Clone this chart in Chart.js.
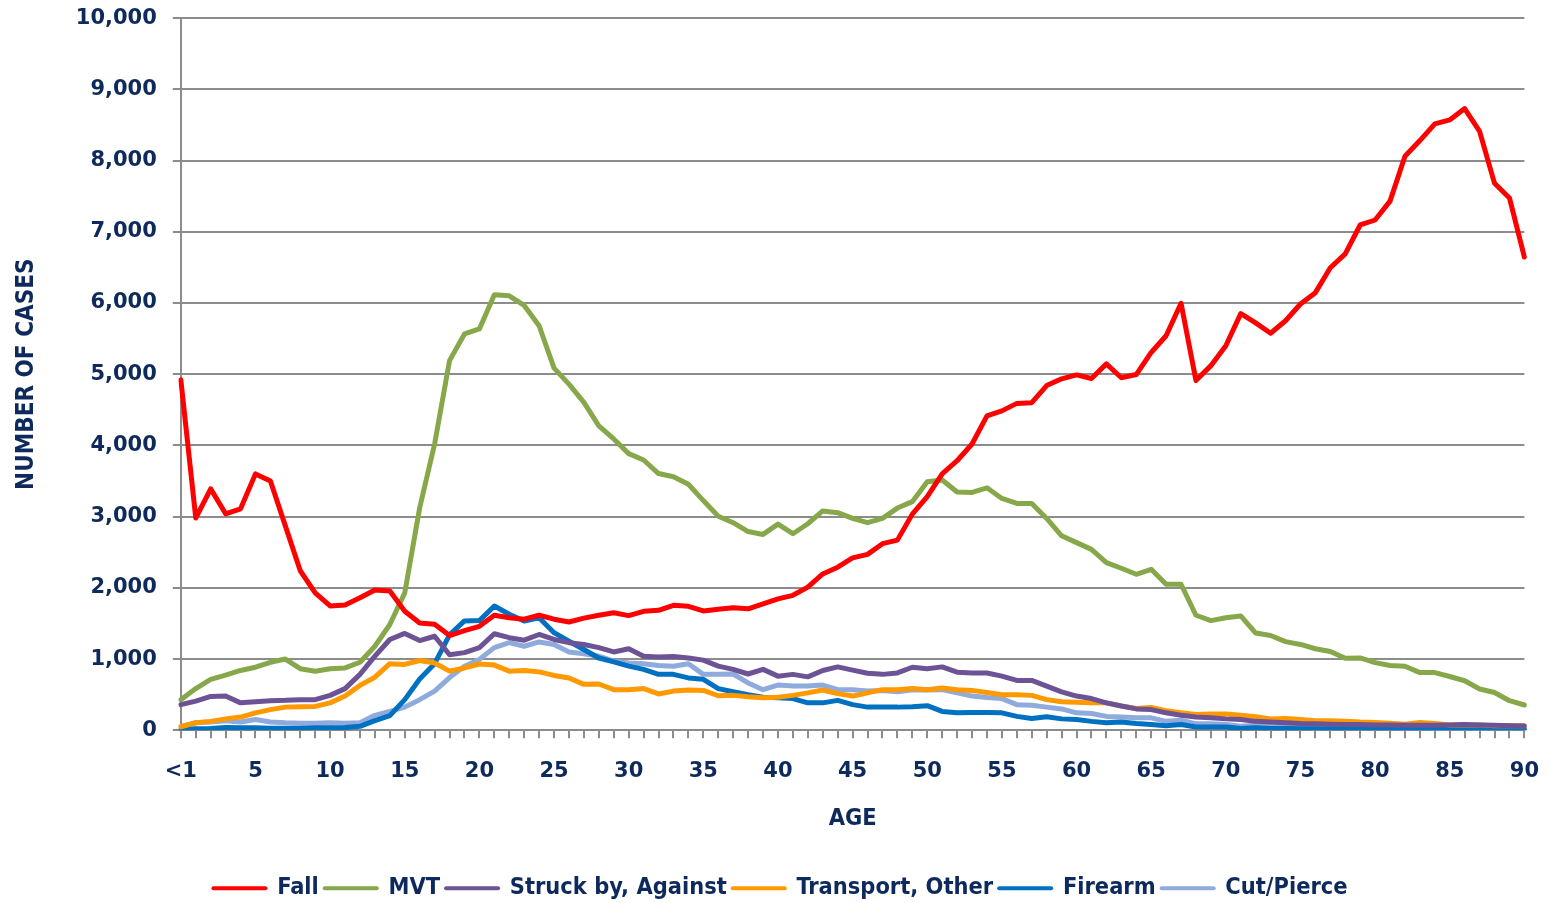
<!DOCTYPE html>
<html>
<head>
<meta charset="utf-8">
<script src="https://cdn.jsdelivr.net/npm/chart.js@4.4.1/dist/chart.umd.min.js"></script>
<style>
  html, body { margin: 0; padding: 0; background: #fff; }
  #wrap { width: 1549px; height: 903px; }
</style>
</head>
<body>
<div id="wrap"><canvas id="injuryChart"></canvas></div>
<script>
// Edades 0..90 (0 = "<1")
const ages = [];
for (let a = 0; a <= 90; a++) ages.push(a);

const fall = [
  4920, 2980, 3390, 3040, 3110, 3600, 3500, 2870, 2240, 1930,
  1745, 1760, 1860, 1970, 1955, 1670, 1505, 1490, 1330, 1400,
  1460, 1615, 1580, 1560, 1615, 1560, 1520, 1575, 1615, 1650,
  1610, 1670, 1685, 1755, 1740, 1675, 1700, 1720, 1705, 1775,
  1845, 1895, 2010, 2195, 2290, 2420, 2470, 2620, 2670, 3035,
  3280, 3600, 3785, 4020, 4415, 4485, 4590, 4600, 4840, 4935,
  4990, 4940, 5145, 4950, 4995, 5305, 5540, 5995, 4910, 5120,
  5400, 5850, 5720, 5575, 5750, 5985, 6145, 6495, 6690, 7095,
  7165, 7430, 8060, 8280, 8515, 8570, 8730, 8410, 7680, 7475,
  6645
];
const mvt = [
  430, 585, 715, 775, 840, 885, 955, 1000, 865, 830,
  865, 875, 955, 1180, 1485, 1930, 3125, 4020, 5190, 5565,
  5635, 6115, 6100, 5965, 5680, 5085, 4860, 4605, 4275, 4090,
  3885, 3795, 3605, 3560, 3455, 3225, 3005, 2915, 2790, 2750,
  2895, 2760, 2900, 3080, 3055, 2975, 2915, 2975, 3120, 3210,
  3490, 3515, 3345, 3340, 3405, 3255, 3185, 3185, 2975, 2730,
  2635, 2540, 2355, 2275, 2190, 2260, 2050, 2050, 1615, 1540,
  1580, 1605, 1365, 1330, 1245, 1205, 1145, 1105, 1010, 1015,
  950, 910, 900, 810, 810, 755, 695, 580, 530, 415,
  355
];
const struckBy = [
  360, 410, 475, 480, 385, 400, 415, 420, 430, 430,
  490, 585, 785, 1040, 1275, 1360, 1260, 1320, 1060, 1090,
  1160, 1355, 1300, 1265, 1345, 1275, 1230, 1205, 1160, 1100,
  1145, 1040, 1030, 1035, 1015, 985, 900, 855, 790, 855,
  760, 785, 750, 840, 890, 845, 800, 785, 805, 885,
  865, 890, 815, 805, 805, 760, 700, 700, 620, 540,
  480, 445, 385, 340, 300, 290, 245, 210, 185, 175,
  160, 150, 125, 115, 105, 95, 90, 85, 80, 80,
  75, 75, 70, 70, 70, 75, 80, 75, 70, 65,
  60
];
const transport = [
  50, 105, 125, 160, 185, 245, 290, 325, 330, 335,
  385, 480, 630, 745, 935, 925, 980, 945, 830, 875,
  930, 915, 830, 840, 820, 770, 735, 645, 650, 570,
  570, 585, 510, 550, 565, 560, 485, 490, 470, 455,
  465, 490, 525, 565, 515, 480, 525, 570, 570, 585,
  570, 595, 570, 560, 530, 500, 500, 490, 430, 400,
  395, 385, 385, 340, 305, 320, 275, 245, 220, 230,
  230, 210, 190, 160, 165, 150, 135, 135, 125, 115,
  110, 100, 85, 110, 95, 75, 75, 75, 65, 65,
  65
];
const firearm = [
  10, 20, 25, 40, 35, 35, 30, 30, 30, 35,
  35, 40, 55, 135, 205, 430, 720, 935, 1340, 1535,
  1540, 1745, 1630, 1535, 1580, 1370, 1250, 1135, 1015, 960,
  900, 855, 785, 785, 735, 715, 585, 540, 500, 465,
  455, 445, 385, 385, 420, 360, 325, 325, 325, 330,
  345, 265, 245, 250, 250, 245, 195, 165, 190, 160,
  150, 125, 105, 115, 95, 80, 65, 80, 45, 45,
  45, 25, 35, 25, 25, 20, 20, 20, 15, 15,
  15, 15, 15, 10, 10, 10, 10, 10, 10, 10,
  10
];
const cutPierce = [
  50, 105, 115, 135, 115, 150, 115, 105, 100, 100,
  105, 100, 105, 210, 265, 325, 430, 550, 740, 900,
  995, 1160, 1230, 1180, 1240, 1205, 1100, 1075, 1040, 970,
  945, 935, 910, 900, 935, 785, 785, 790, 665, 570,
  635, 620, 620, 635, 570, 570, 550, 560, 540, 570,
  565, 570, 525, 480, 460, 445, 360, 350, 325, 300,
  245, 235, 195, 185, 175, 175, 125, 140, 90, 90,
  80, 55, 70, 55, 50, 45, 45, 40, 40, 35,
  35, 30, 30, 30, 25, 25, 25, 25, 20, 20,
  20
];

const seriesNames = ['Fall', 'MVT', 'Struck by, Against', 'Transport, Other', 'Firearm', 'Cut/Pierce'];
const seriesColors = ['#FF0000', '#87A84A', '#6B5396', '#FF9900', '#0070C0', '#8FAADC'];
const seriesData = [fall, mvt, struckBy, transport, firearm, cutPierce];

const navy = '#0E2A5C';
const gridGray = '#8C8C8C';
const labelFamily = '"DejaVu Sans Condensed", "DejaVu Sans", sans-serif';

// Ajusta el tamaño de letra para que el texto ocupe el ancho medido en la imagen
function fitSize(text, family, targetWidth) {
  const c = document.createElement('canvas').getContext('2d');
  c.font = 'bold 100px ' + family;
  const w = c.measureText(text).width;
  return Math.round(100 * targetWidth / w * 10) / 10;
}
const legendSize = fitSize('Struck by, Against', labelFamily, 217);
const yTitleSize = fitSize('NUMBER OF CASES', labelFamily, 231);
const xTitleSize = fitSize('AGE', labelFamily, 48);

// Orden de dibujo: la primera serie queda encima
const datasets = seriesNames.map((name, i) => ({
  label: name,
  data: seriesData[i],
  borderColor: seriesColors[i],
  backgroundColor: seriesColors[i],
  borderWidth: 5,
  borderCapStyle: 'round',
  borderJoinStyle: 'round',
  pointRadius: 0,
  tension: 0,
  order: i
}));

const ctx = document.getElementById('injuryChart').getContext('2d');
new Chart(ctx, {
  type: 'line',
  data: { labels: ages, datasets: datasets },
  options: {
    responsive: true,
    maintainAspectRatio: false,
    animation: false,
    layout: { padding: { top: 0, right: 0, bottom: -7, left: 12 } },
    plugins: {
      tooltip: { enabled: false },
      legend: {
        position: 'bottom',
        labels: {
          color: navy,
          font: { family: labelFamily, size: legendSize, weight: 'bold' },
          usePointStyle: true,
          pointStyle: 'line',
          pointStyleWidth: 52,
          boxHeight: 4,
          padding: 6,
          generateLabels: (chart) => chart.data.datasets.map((ds, i) => ({
            text: ds.label,
            fillStyle: ds.borderColor,
            strokeStyle: ds.borderColor,
            lineWidth: 4,
            lineCap: 'round',
            pointStyle: 'line',
            datasetIndex: i,
            hidden: false,
            fontColor: navy
          }))
        }
      }
    },
    scales: {
      x: {
        type: 'category',
        offset: false,
        grid: { drawOnChartArea: false, drawTicks: true, tickLength: 8, color: gridGray, lineWidth: 2 },
        border: { color: gridGray, width: 2 },
        ticks: {
          autoSkip: false,
          maxRotation: 0,
          padding: 10,
          color: navy,
          font: { family: '"DejaVu Sans", sans-serif', size: 21, weight: 'bold', lineHeight: 2.25 },
          callback: (value, index) => {
            const age = ages[index];
            if (age === 0) return '<1';
            return age % 5 === 0 ? String(age) : '';
          }
        },
        title: {
          display: true,
          text: 'AGE',
          color: navy,
          font: { family: labelFamily, size: xTitleSize, weight: 'bold' },
          padding: { top: -1, bottom: 38 }
        }
      },
      y: {
        min: 0,
        max: 10000,
        ticks: {
          stepSize: 1000,
          padding: 16,
          color: navy,
          font: { family: '"DejaVu Sans", sans-serif', size: 21, weight: 'bold', lineHeight: 0.2 },
          callback: (v) => v.toLocaleString('en-US')
        },
        grid: { color: gridGray, lineWidth: 2, tickLength: 8 },
        border: { color: gridGray, width: 2 },
        title: {
          display: true,
          text: 'NUMBER OF CASES',
          color: navy,
          font: { family: labelFamily, size: yTitleSize, weight: 'bold' },
          padding: { top: 0, bottom: 19 }
        }
      }
    }
  }
});
</script>
</body>
</html>
